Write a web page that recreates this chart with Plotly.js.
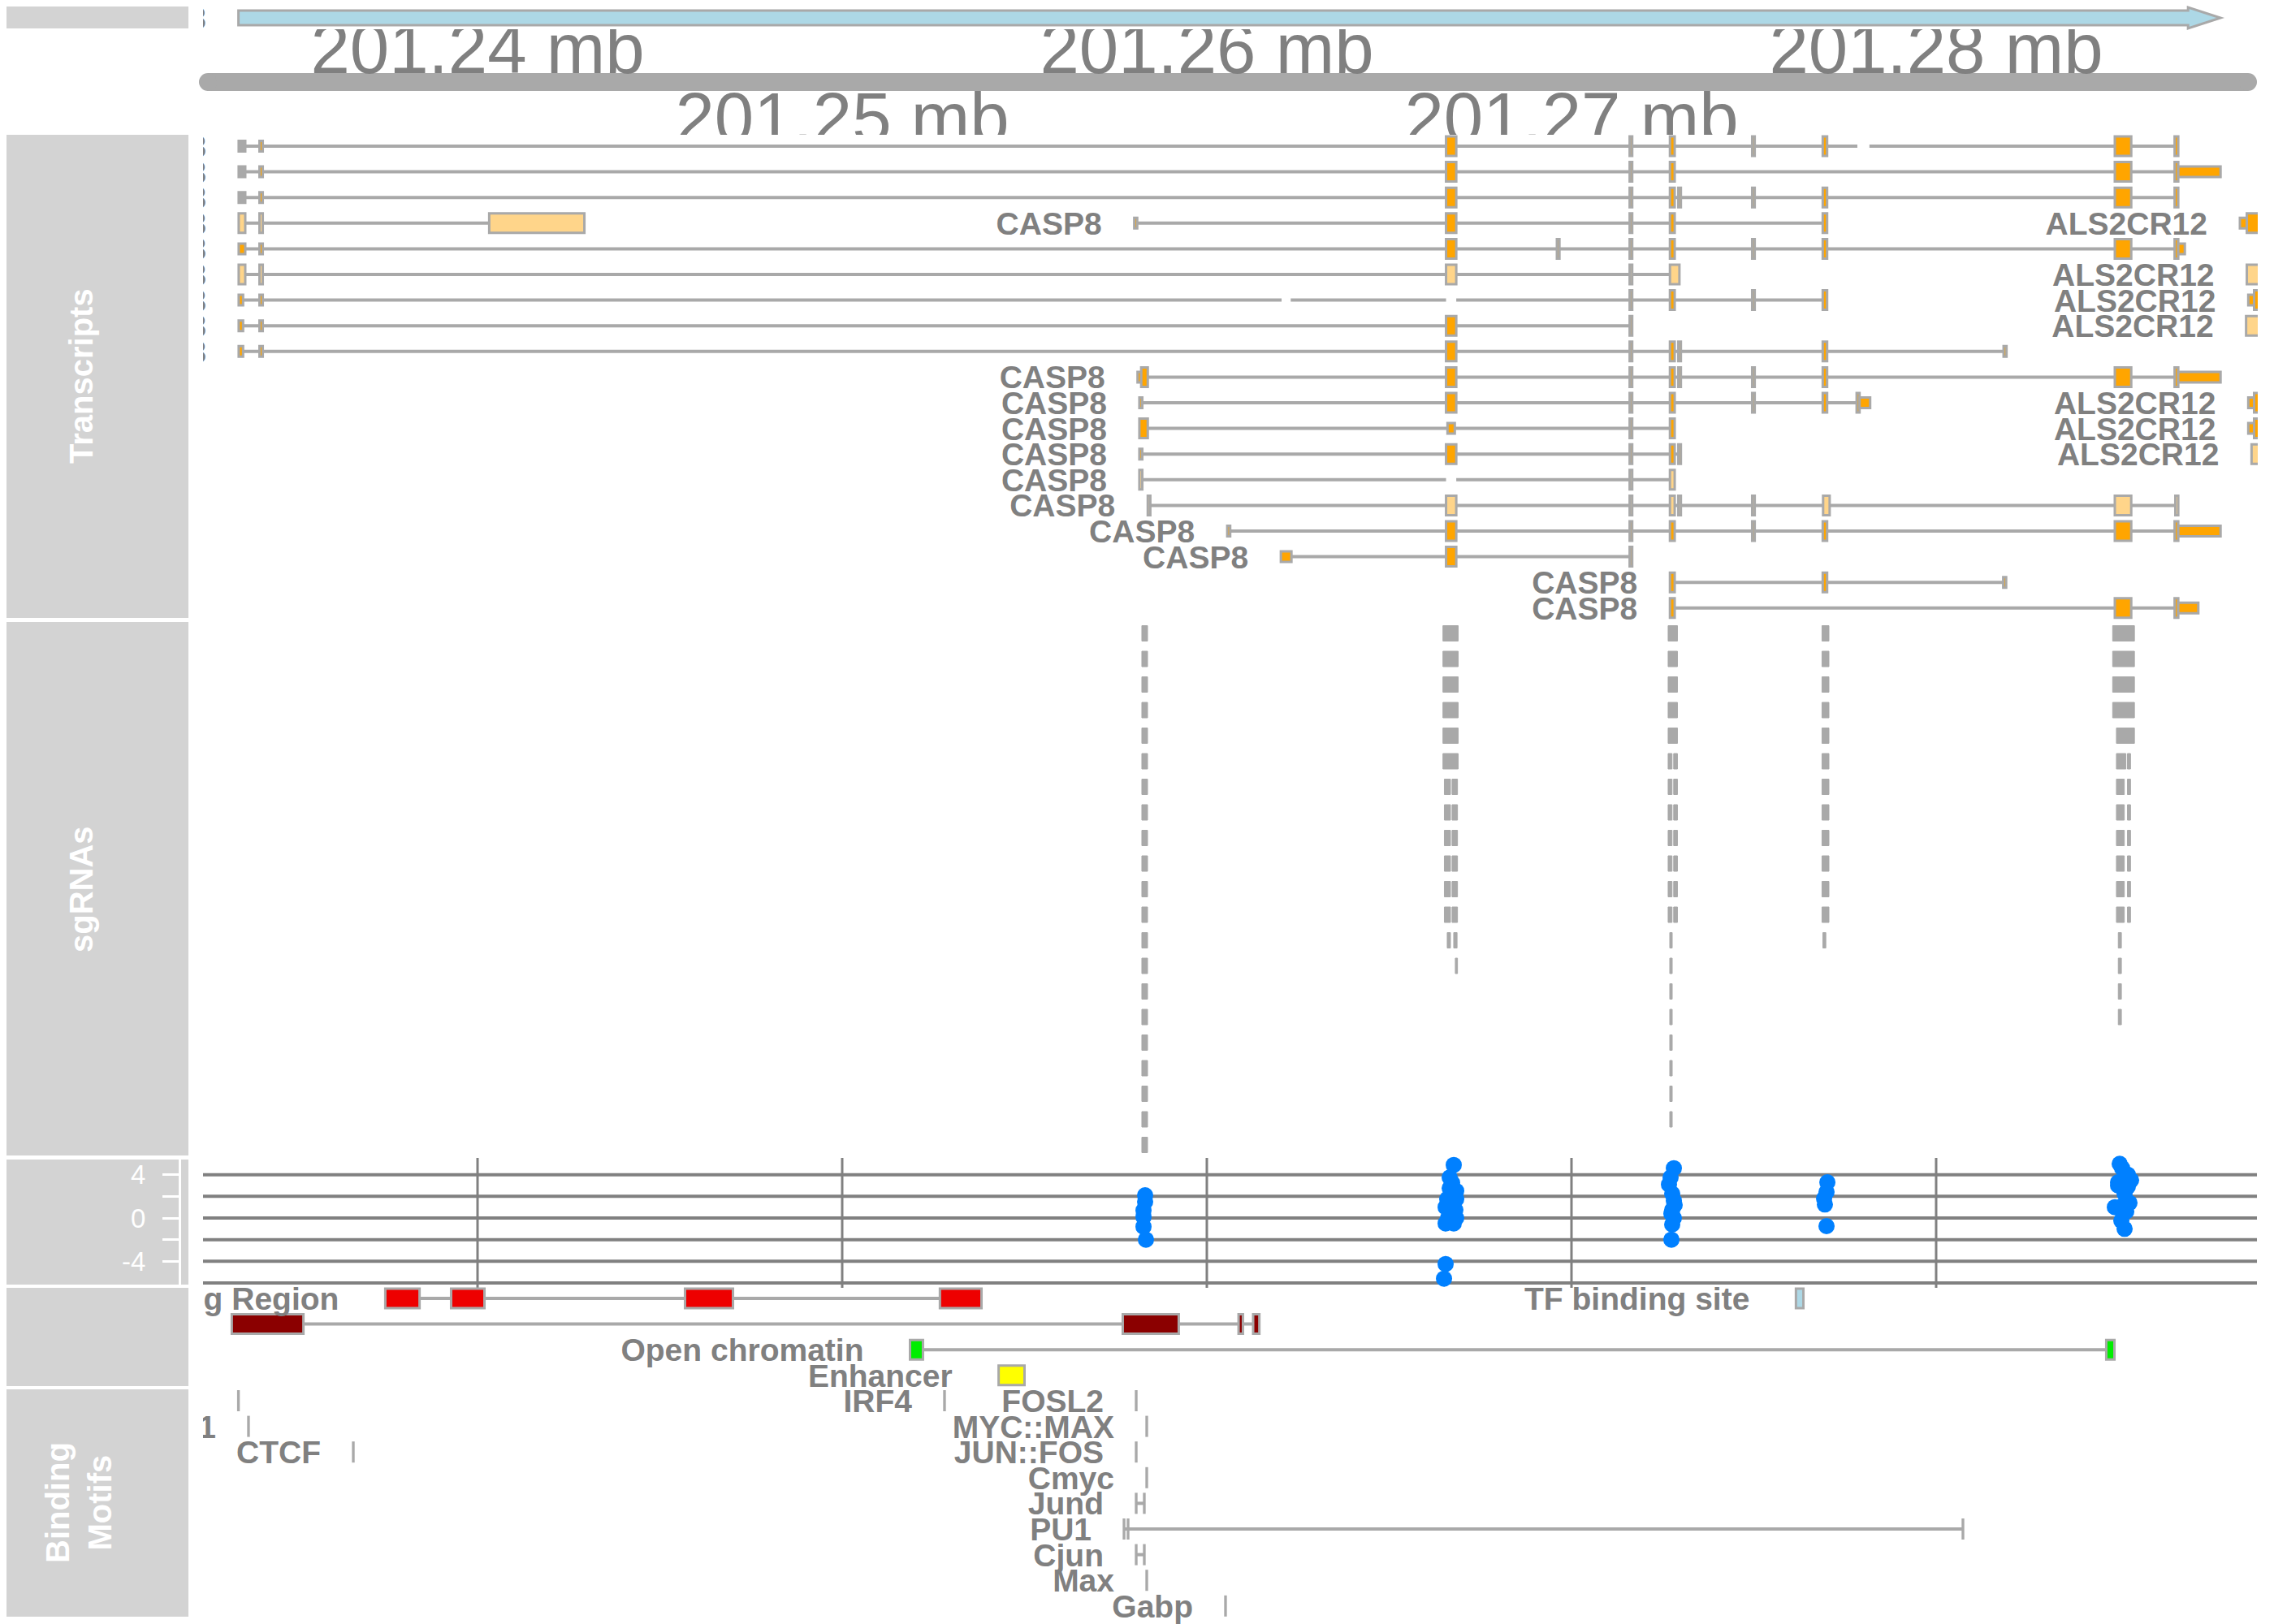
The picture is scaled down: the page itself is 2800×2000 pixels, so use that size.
<!DOCTYPE html>
<html><head><meta charset="utf-8">
<script src="https://cdn.plot.ly/plotly-3.0.1.min.js"></script>
<style>html,body{margin:0;padding:0;background:#fff}</style>
</head><body><div id="chart" style="width:2800px;height:2000px"></div>
<script>
// ================= DATA (chr2, bp) =================
const axisTicks = [201240000, 201250000, 201260000, 201270000, 201280000];
const axisTickLabels = ['201.24 mb', '201.25 mb', '201.26 mb', '201.27 mb', '201.28 mb'];

const geneName = 'CASP8';
const geneStart = 201233443;
const geneEnd = 201287800;

// recurring exons
const E1 = [201233450, 201233630];
const E2 = [201234020, 201234110];
const E3 = [201266560, 201266840];
const E4 = [201269600, 201269670];
const E5 = [201271595, 201271665];
const E6 = [201272700, 201272830];
const E6b = [201272930, 201273000];
const E7 = [201274955, 201275025];
const E8 = [201276890, 201277010];
const E9 = [201284900, 201285350];
const E10 = [201286540, 201286640];
const U3 = [201286640, 201287800];
function ex(a, t) { return [a[0], a[1], t]; }

// C = coding, U = UTR (thin), G = thin grey UTR, N = non-coding, X = gap in intron line
const txRow = [0, 1, 2, 3, 3, 3, 4, 5, 5, 6, 6, 7, 7, 8, 9, 10, 10, 11, 11, 12, 12, 13, 14, 15, 16, 17, 18];
const txLabel = ['CASP8', 'CASP8', 'CASP8', 'CASP8', 'CASP8', 'ALS2CR12', 'CASP8', 'CASP8', 'ALS2CR12',
  'CASP8', 'ALS2CR12', 'CASP8', 'ALS2CR12', 'CASP8', 'CASP8', 'CASP8', 'ALS2CR12', 'CASP8', 'ALS2CR12',
  'CASP8', 'ALS2CR12', 'CASP8', 'CASP8', 'CASP8', 'CASP8', 'CASP8', 'CASP8'];
const txExons = [
  [ex(E1,'G'), ex(E2,'U'), ex(E3,'C'), ex(E5,'C'), ex(E6,'C'), ex(E7,'C'), ex(E8,'C'), [201277840,201278170,'X'], ex(E9,'C'), ex(E10,'C')],
  [ex(E1,'G'), ex(E2,'U'), ex(E3,'C'), ex(E5,'C'), ex(E6,'C'), ex(E9,'C'), ex(E10,'C'), ex(U3,'U')],
  [ex(E1,'G'), ex(E2,'U'), ex(E3,'C'), ex(E5,'C'), ex(E6,'C'), ex(E6b,'C'), ex(E7,'C'), ex(E8,'C'), ex(E9,'C'), ex(E10,'C')],
  [ex(E1,'N'), ex(E2,'N'), [201240320,201242930,'N']],
  [[201258010,201258090,'U'], ex(E3,'C'), ex(E5,'C'), ex(E6,'C'), ex(E8,'C')],
  [[201288330,201288520,'U'], [201288520,201289600,'C']],
  [ex(E1,'U'), ex(E2,'U'), ex(E3,'C'), ex(E4,'C'), ex(E5,'C'), ex(E6,'C'), ex(E7,'C'), ex(E8,'C'), ex(E9,'C'), ex(E10,'C'), [201286640,201286820,'U']],
  [ex(E1,'N'), ex(E2,'N'), ex(E3,'N'), ex(E5,'N'), [201272700,201272960,'N']],
  [[201288520,201289600,'N']],
  [[201233450,201233570,'U'], ex(E2,'U'), [201262050,201262300,'X'], [201266560,201266840,'X'], ex(E5,'C'), ex(E6,'C'), ex(E7,'C'), ex(E8,'C')],
  [[201288560,201288720,'U'], [201288720,201289600,'C']],
  [[201233450,201233570,'U'], ex(E2,'U'), ex(E3,'C'), ex(E5,'C')],
  [[201288500,201289600,'N']],
  [[201233450,201233570,'U'], ex(E2,'U'), ex(E3,'C'), ex(E5,'C'), ex(E6,'C'), ex(E6b,'C'), ex(E8,'C'), [201281850,201281930,'U']],
  [[201258100,201258200,'U'], [201258200,201258380,'C'], ex(E3,'C'), ex(E5,'C'), ex(E6,'C'), ex(E6b,'C'), ex(E7,'C'), ex(E8,'C'), ex(E9,'C'), ex(E10,'C'), ex(U3,'U')],
  [[201258150,201258230,'U'], ex(E3,'C'), ex(E5,'C'), ex(E6,'C'), ex(E7,'C'), ex(E8,'C'), [201277820,201277900,'C'], [201277900,201278190,'U']],
  [[201288560,201288720,'U'], [201288720,201289600,'C']],
  [[201258150,201258380,'C'], [201266600,201266800,'U'], ex(E5,'C'), ex(E6,'C')],
  [[201288560,201288720,'U'], [201288720,201289600,'C']],
  [[201258150,201258230,'U'], ex(E3,'C'), ex(E5,'C'), ex(E6,'C'), ex(E6b,'C')],
  [[201288650,201289600,'N']],
  [[201258150,201258230,'N'], [201266560,201266840,'X'], ex(E5,'N'), ex(E6,'N')],
  [[201258380,201258450,'N'], ex(E3,'N'), ex(E5,'N'), ex(E6,'N'), ex(E6b,'N'), ex(E7,'N'), [201276900,201277080,'N'], ex(E9,'N'), [201286560,201286640,'N']],
  [[201260560,201260640,'U'], ex(E3,'C'), ex(E5,'C'), ex(E6,'C'), ex(E7,'C'), ex(E8,'C'), ex(E9,'C'), ex(E10,'C'), ex(U3,'U')],
  [[201262030,201262320,'U'], ex(E3,'C'), ex(E5,'C')],
  [ex(E6,'C'), ex(E8,'C'), [201281840,201281920,'U']],
  [ex(E6,'C'), ex(E9,'C'), ex(E10,'C'), [201286640,201287190,'U']]
];

// sgRNAs: per cluster, bands of [number of stacked rows, spans in each row]
const sgA = [[21, [[201258218, 201258374]]]];
const sgB = [[6, [[201266475, 201266892]]], [6, [[201266514, 201266681], [201266725, 201266874]]],
             [1, [[201266592, 201266681], [201266770, 201266862]]], [1, [[201266814, 201266874]]]];
const sgC = [[5, [[201272650, 201272906]]], [7, [[201272650, 201272757], [201272802, 201272906]]],
             [8, [[201272695, 201272762]]]];
const sgD = [[12, [[201276870, 201277060]]], [1, [[201276895, 201276975]]]];
const sgE = [[4, [[201284841, 201285438]]], [1, [[201284944, 201285438]]],
             [1, [[201284944, 201285204], [201285246, 201285331]]],
             [6, [[201284944, 201285160], [201285246, 201285331]]], [4, [[201284995, 201285080]]]];
const sgClusters = [sgA, sgB, sgC, sgD, sgE];

// score track
const dotPos = [
  201258308, 201258308, 201258263, 201258263, 201258263, 201258330,
  201266771, 201266660, 201266726, 201266660, 201266838, 201266593, 201266838, 201266548, 201266816, 201266615, 201266838, 201266548, 201266771, 201266548, 201266504,
  201272807, 201272718, 201272673, 201272762, 201272807, 201272829, 201272762, 201272740, 201272807, 201272762, 201272740,
  201277017, 201276994, 201276927, 201276949, 201276994,
  201285034, 201285101, 201285257, 201285346, 201284990, 201284990, 201285257, 201285168, 201285302, 201284901, 201285101, 201285213, 201285079, 201285168
];
const dotScore = [
  2.1, 1.5, 0.7, 0.1, -0.8, -2.0,
  4.9, 3.75, 3.25, 2.75, 2.5, 1.75, 1.75, 1.0, 0.75, 0.0, 0.0, -0.5, -0.5, -4.25, -5.6,
  4.6, 3.75, 3.1, 2.25, 1.6, 1.2, 0.75, 0.4, 0.0, -0.6, -2.0,
  3.3, 2.4, 1.8, 1.25, -0.75,
  5.0, 4.6, 4.0, 3.5, 3.3, 3.0, 2.9, 2.25, 1.4, 1.0, 1.1, 0.6, -0.25, -1.0
];
const scoreGrid = [4, 2, 0, -2, -4, -6];

// regulatory features
const regLabel = ['Promoter Flanking Region', 'TF binding site', '', 'Open chromatin', 'Enhancer'];
const regRow = [0, 0, 1, 2, 3];
const regColor = ['#EE0000', '#ADD8E6', '#8B0000', '#00EE00', '#FFFF00'];
const regStarts = [[201237470, 201239275, 201245690, 201252680], [201276155], [201233260, 201257695, 201260870, 201261270], [201251860, 201284665], [201254290]];
const regEnds = [[201238410, 201240190, 201247005, 201253820], [201276360], [201235225, 201259230, 201260990, 201261440], [201252215, 201284890], [201255000]];

// binding motifs
const motifLabel = ['', 'IRF4', 'FOSL2', 'EGR1', 'MYC::MAX', 'CTCF', 'JUN::FOS', 'Cmyc', 'Jund', 'PU1', 'Cjun', 'Max', 'Gabp'];
const motifRow = [0, 0, 0, 1, 1, 2, 2, 3, 4, 5, 6, 7, 8];
const motifSites = [[201233443], [201252806], [201258063], [201233719], [201258352], [201236593], [201258063],
  [201258352], [201258063, 201258285], [201257729, 201257840, 201280735], [201258063, 201258285], [201258352], [201260512]];

// ================= LAYOUT CONSTANTS =================
const W = 2800, H = 2000;
const PX0 = 250, PX1 = 2780;
const XMIN = 201232472, XMAX = 201288820;
const BPPX = (XMAX - XMIN) / (PX1 - PX0);
const ORANGE = '#FFA500', LIGHT = '#FFD58A', GREY = '#A9A9A9', DGREY = '#808080', PANEL = '#D3D3D3';
const FONT = 'Liberation Sans, Arial, Helvetica, sans-serif';
const LFS = 39; // feature label size

const shapes = [];
const annotations = [];
function box(x0, x1, yc, h, fill, lw, lc) {
  shapes.push({type: 'rect', xref: 'x', yref: 'y', x0: x0, x1: x1, y0: yc - h / 2, y1: yc + h / 2,
    fillcolor: fill, line: {color: lc || GREY, width: lw}, layer: 'below'});
}
function hline(x0, x1, y, w, c) {
  shapes.push({type: 'line', xref: 'x', yref: 'y', x0: x0, x1: x1, y0: y, y1: y, line: {color: c, width: w}, layer: 'below'});
}
const labX = [], labY = [], labT = [];
function addLabel(text, startBp, yc, gapPx) {
  if (!text) return;
  labX.push(startBp - gapPx * BPPX); labY.push(yc + 0.11 * LFS); labT.push(text);
}

// ---- left panels
function panel(y0, y1) {
  shapes.push({type: 'rect', xref: 'paper', yref: 'y', x0: 8 / W, x1: 232 / W, y0: y0, y1: y1,
    fillcolor: PANEL, line: {width: 0}, layer: 'below'});
}
panel(8, 35); panel(166, 761); panel(766, 1423); panel(1428, 1582); panel(1586, 1707); panel(1711, 1991);
function ptitle(text, x, y) {
  annotations.push({xref: 'paper', yref: 'y', x: x / W, y: y, text: text, showarrow: false, textangle: -90,
    font: {family: FONT, size: 40, color: '#FFFFFF', weight: 'bold'}, xanchor: 'center', yanchor: 'middle'});
}
ptitle('Transcripts', 100, 463);
ptitle('sgRNAs', 100, 1095);
ptitle('Binding<br>Motifs', 97, 1851);

// ---- top gene arrow
(function () {
  const he = geneEnd - 40 * BPPX;
  shapes.push({type: 'path', xref: 'x', yref: 'y', layer: 'below',
    path: 'M' + geneStart + ',13 L' + he + ',13 L' + he + ',9 L' + geneEnd + ',22 L' + he + ',35 L' + he + ',31 L' + geneStart + ',31 Z',
    fillcolor: '#ADD8E6', line: {color: GREY, width: 3}});
  addLabel(geneName, geneStart, 22, 40);
})();

// ---- genome axis bar
shapes.push({type: 'rect', xref: 'paper', yref: 'y', x0: 256 / W, x1: 2768 / W, y0: 90, y1: 112, fillcolor: GREY, line: {width: 0}, layer: 'below'});
shapes.push({type: 'circle', xref: 'paper', yref: 'y', x0: 245 / W, x1: 267 / W, y0: 90, y1: 112, fillcolor: GREY, line: {width: 0}, layer: 'below'});
shapes.push({type: 'circle', xref: 'paper', yref: 'y', x0: 2757 / W, x1: 2779 / W, y0: 90, y1: 112, fillcolor: GREY, line: {width: 0}, layer: 'below'});

// ---- transcripts
const TX_Y0 = 180, ROWH = 31.6, TALL = 24, THIN = 13;
txExons.forEach(function (exs, i) {
  const yc = TX_Y0 + txRow[i] * ROWH;
  const s = Math.min.apply(null, exs.map(function (e) { return e[0]; }));
  const e = Math.max.apply(null, exs.map(function (e) { return e[1]; }));
  let cur = s;
  exs.filter(function (q) { return q[2] === 'X'; }).forEach(function (g) { hline(cur, g[0], yc, 4, GREY); cur = g[1]; });
  hline(cur, e, yc, 4, GREY);
  exs.forEach(function (q) {
    if (q[2] === 'X') return;
    const h = (q[2] === 'U' || q[2] === 'G') ? THIN : TALL;
    const f = q[2] === 'N' ? LIGHT : (q[2] === 'G' ? GREY : ORANGE);
    box(q[0], q[1], yc, h, f, 3, GREY);
  });
  addLabel(txLabel[i], s, yc, 40);
});

// ---- sgRNAs
const SG_Y0 = 780, SG_ROW = 31.5, SG_H = 19;
sgClusters.forEach(function (cl) {
  let r = 0;
  cl.forEach(function (band) {
    for (let k = 0; k < band[0]; k++) {
      band[1].forEach(function (sp) { box(sp[0], sp[1], SG_Y0 + r * SG_ROW, SG_H, GREY, 1, GREY); });
      r++;
    }
  });
});

// ---- score track grid
scoreGrid.forEach(function (v) {
  shapes.push({type: 'line', xref: 'paper', yref: 'y2', x0: PX0 / W, x1: (PX1 - 1) / W, y0: v, y1: v,
    line: {color: DGREY, width: 4}, layer: 'below'});
});
axisTicks.forEach(function (t) {
  shapes.push({type: 'line', xref: 'x', yref: 'y', x0: t, x1: t, y0: 1426, y1: 1586, line: {color: DGREY, width: 3}, layer: 'below'});
});

// ---- regulatory features
const REG_Y0 = 1599;
regStarts.forEach(function (st, g) {
  const yc = REG_Y0 + regRow[g] * ROWH;
  const en = regEnds[g];
  if (st.length > 1) hline(st[0], en[en.length - 1], yc, 4, GREY);
  st.forEach(function (s, k) { box(s, en[k], yc, 24, regColor[g], 3, GREY); });
  addLabel(regLabel[g], st[0], yc, 57);
});

// ---- binding motifs
const MOT_Y0 = 1725;
motifSites.forEach(function (st, g) {
  const yc = MOT_Y0 + motifRow[g] * ROWH;
  if (st.length > 1) hline(st[0], st[st.length - 1], yc, 4, GREY);
  st.forEach(function (s) { box(s - 15, s + 15, yc, 24, GREY, 2, GREY); });
  addLabel(motifLabel[g], st[0], yc, 40);
});

// ================= TRACES =================
const AFS = 87;
const axX = [], axY = [];
axisTicks.forEach(function (t, i) {
  axX.push(t);
  axY.push(i % 2 === 0 ? 90 - 0.25 * AFS : 113 + 0.716 * AFS - 0.25 * AFS);
});

const traces = [
  {type: 'scatter', mode: 'text', x: axX, y: axY, text: axisTickLabels, xaxis: 'x', yaxis: 'y3',
    textposition: 'middle center', cliponaxis: true, hoverinfo: 'skip',
    textfont: {family: FONT, size: AFS, color: DGREY}},
  {type: 'scatter', mode: 'text', x: labX, y: labY, text: labT, xaxis: 'x', yaxis: 'y',
    textposition: 'middle left', cliponaxis: true, hoverinfo: 'skip',
    textfont: {family: FONT, size: LFS, color: DGREY, weight: 'bold'}},
  {type: 'scatter', mode: 'markers', x: dotPos, y: dotScore, xaxis: 'x', yaxis: 'y2', cliponaxis: false,
    marker: {size: 20, color: '#0080FF', line: {width: 0}}, hoverinfo: 'skip'}
];

const layout = {
  width: W, height: H, margin: {l: 0, r: 0, t: 0, b: 0, pad: 0},
  paper_bgcolor: '#FFFFFF', plot_bgcolor: 'rgba(0,0,0,0)', showlegend: false, hovermode: false,
  xaxis: {domain: [PX0 / W, PX1 / W], range: [XMIN, XMAX], visible: false, fixedrange: true, anchor: 'y'},
  yaxis: {domain: [0, 1], range: [H, 0], visible: false, fixedrange: true, anchor: 'x'},
  yaxis2: {domain: [1 - 1582 / H, 1 - 1428 / H], range: [-6.15, 5.4], anchor: 'free', position: 221 / W, side: 'left',
    showgrid: false, zeroline: false, showline: true, linecolor: '#FFFFFF', linewidth: 3,
    ticks: 'outside', ticklen: 20, tickwidth: 3, tickcolor: '#FFFFFF',
    tickvals: [-4, -2, 0, 2, 4], ticktext: ['-4', '', '0', '', '4'], ticklabelstandoff: 14,
    tickfont: {family: FONT, size: 33, color: '#FFFFFF'}, fixedrange: true},
  yaxis3: {domain: [1 - 166 / H, 1 - 36 / H], range: [166, 36], visible: false, fixedrange: true, anchor: 'x'},
  shapes: shapes,
  annotations: annotations
};

Plotly.newPlot('chart', traces, layout, {staticPlot: true, displayModeBar: false});
</script>
</body></html>
